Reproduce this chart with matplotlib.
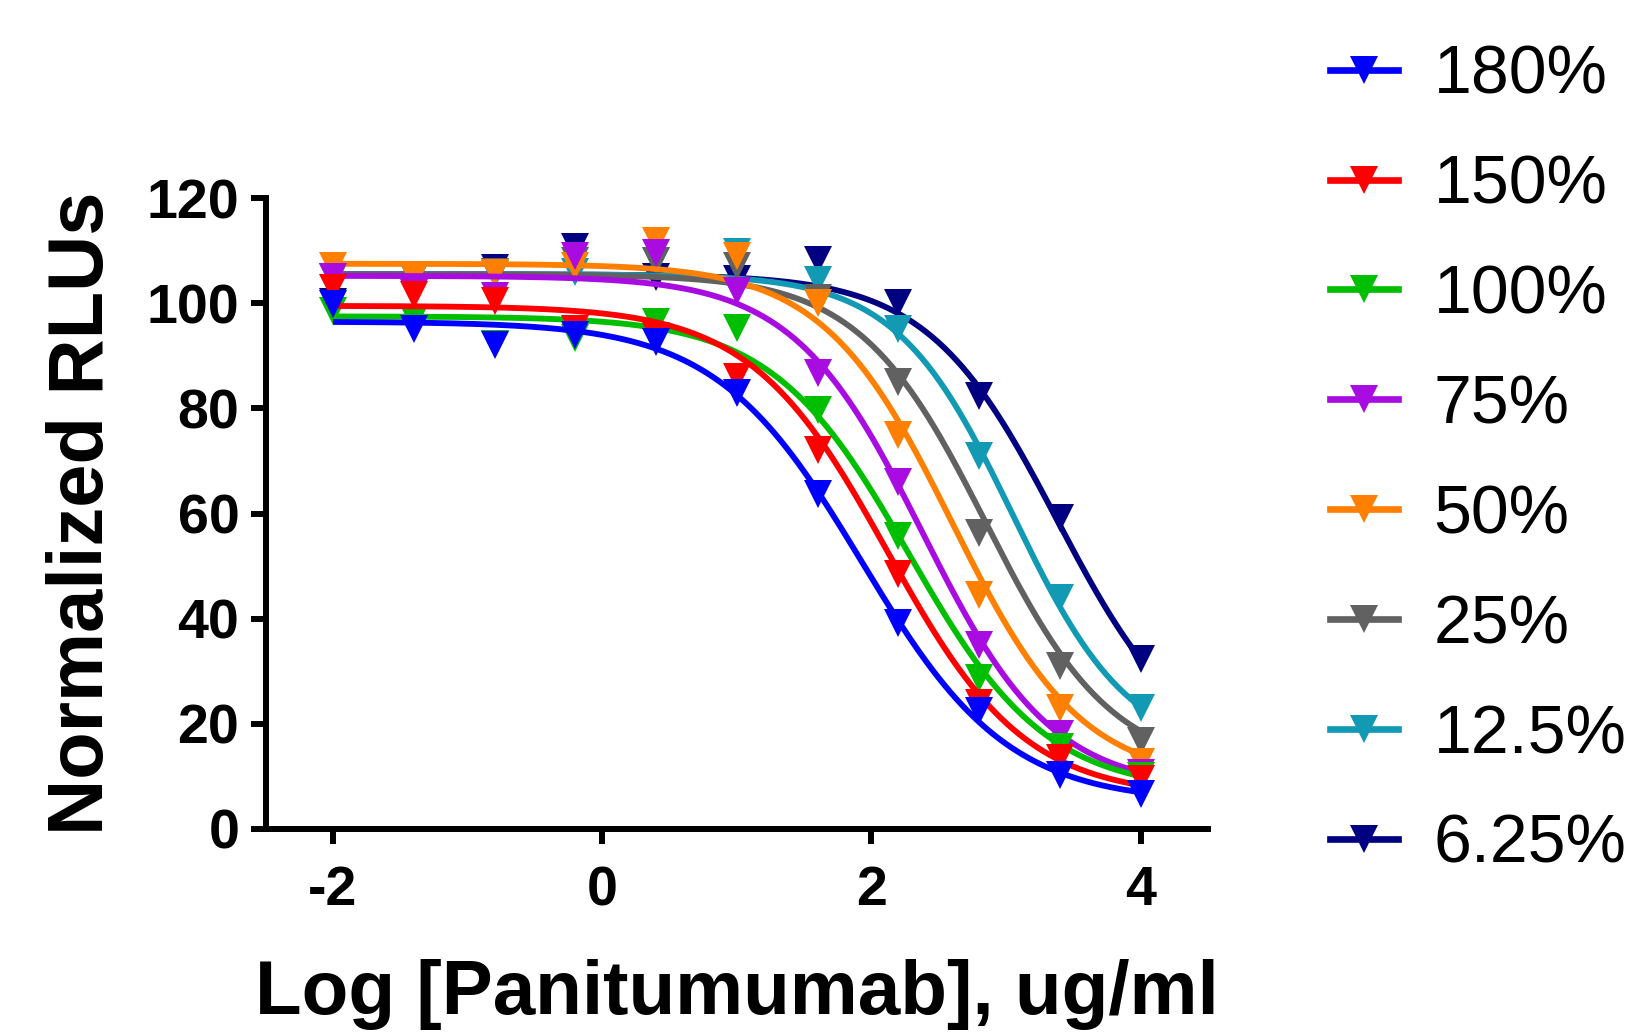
import numpy as np
import matplotlib
matplotlib.use("Agg")
import matplotlib.pyplot as plt
from matplotlib.lines import Line2D

plt.rcParams["font.family"] = ["Liberation Sans", "DejaVu Sans"]
plt.rcParams["axes.unicode_minus"] = False

# Log concentration of panitumumab (ug/ml)
log_conc = [-2.0, -1.4, -0.8, -0.2, 0.4, 1.0, 1.6, 2.2, 2.8, 3.4, 4.0]

labels = ["180%", "150%", "100%", "75%", "50%", "25%", "12.5%", "6.25%"]
colors = ["#0000FF", "#FF0000", "#00BF00", "#A80CE0", "#FF8000", "#616161", "#129AB5", "#000080"]

# Normalized RLUs per relative potency level
rlu_180 = [99.8, 95.0, 92.0, 94.0, 92.7, 83.0, 63.8, 39.2, 22.4, 10.3, 6.7]
rlu_150 = [102.8, 101.6, 100.4, 95.0, 93.8, 86.0, 72.0, 48.5, 24.0, 13.5, 9.5]
rlu_100 = [98.6, 97.0, 92.2, 93.3, 96.4, 95.2, 79.6, 55.8, 28.7, 15.6, 10.0]
rlu_75 = [105.0, 102.0, 101.4, 109.0, 109.5, 102.4, 86.7, 66.0, 35.0, 18.0, 10.7]
rlu_50 = [107.0, 105.0, 105.7, 107.0, 111.9, 109.0, 100.0, 75.0, 44.5, 23.0, 12.8]
rlu_25 = [105.0, 105.0, 106.0, 108.0, 108.0, 107.0, 101.0, 85.0, 56.2, 31.0, 16.8]
rlu_12_5 = [105.0, 105.0, 105.5, 106.0, 108.0, 109.8, 104.4, 95.0, 71.0, 44.0, 23.0]
rlu_6_25 = [100.3, 103.0, 106.7, 110.7, 105.0, 104.6, 108.3, 100.0, 82.4, 59.2, 32.3]
series = [rlu_180, rlu_150, rlu_100, rlu_75, rlu_50, rlu_25, rlu_12_5, rlu_6_25]

# Four-parameter logistic fit results: top, bottom, logIC50, Hill slope
fit_top = [96.5, 99.5, 97.5, 105.2, 107.5, 105.5, 105.5, 105.5]
fit_bottom = [5.0, 6.0, 7.0, 7.5, 9.0, 11.0, 14.0, 12.0]
fit_logic50 = [1.93, 2.12, 2.28, 2.38, 2.60, 2.85, 3.05, 3.38]
fit_hill = [0.80, 0.85, 0.85, 0.90, 0.90, 0.92, 1.00, 0.90]


def four_pl(x, top, bottom, logic50, hill):
    return bottom + (top - bottom) / (1.0 + 10.0 ** ((x - logic50) * hill))


fig = plt.figure(figsize=(16.33, 10.33), dpi=100)
ax = fig.add_axes([0.1627, 0.1975, 0.5770, 0.6108])

xs = np.linspace(min(log_conc), max(log_conc), 400)
n = len(series)
for i, (vals, col) in enumerate(zip(series, colors)):
    z = 10 + (n - i) * 2
    ax.plot(xs, four_pl(xs, fit_top[i], fit_bottom[i], fit_logic50[i], fit_hill[i]),
            color=col, lw=4.2, zorder=z, solid_capstyle="butt")
    ax.plot(log_conc, vals, linestyle="none", marker="v", ms=19.5, color=col,
            markeredgewidth=0, zorder=z + 1, clip_on=False)

ax.set_xlim(-2.5, 4.5)
ax.set_ylim(0, 120)
ax.set_xticks([-2, 0, 2, 4])
ax.set_yticks([0, 20, 40, 60, 80, 100, 120])
for side in ("top", "right"):
    ax.spines[side].set_visible(False)
for side in ("left", "bottom"):
    ax.spines[side].set_linewidth(4.3)
    ax.spines[side].set_capstyle("projecting")
ax.tick_params(axis="both", length=11, width=4.3, labelsize=40)
ax.tick_params(axis="x", pad=15)
ax.tick_params(axis="y", pad=8)
for lab in ax.get_xticklabels() + ax.get_yticklabels():
    lab.set_fontweight("bold")

ax.set_xlabel("Log [Panitumumab], ug/ml", fontsize=55, fontweight="bold", labelpad=30)
ax.set_ylabel("Normalized RLUs", fontsize=56, fontweight="bold", labelpad=20)

handles = [Line2D([0], [0], color=c, lw=4.8, marker="v", ms=19.5, markeredgewidth=0)
           for c in colors]
fig.legend(handles, labels, loc="upper left", bbox_to_anchor=(0.8145, 0.958),
           frameon=False, fontsize=49, handlelength=1.0, handletextpad=0.52,
           labelspacing=0.675, borderpad=0, borderaxespad=0, numpoints=1)

fig.savefig("out.png", dpi=100)
